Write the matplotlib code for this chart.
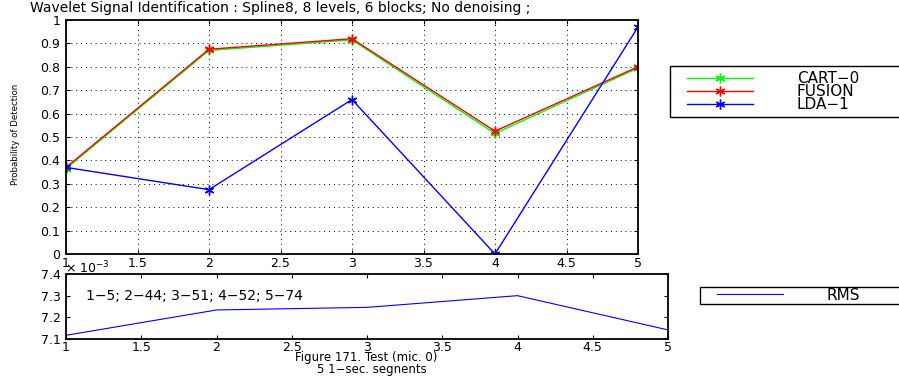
import numpy as np
import matplotlib
matplotlib.use('Agg')
import matplotlib.pyplot as plt
from matplotlib.lines import Line2D
from matplotlib.legend_handler import HandlerLine2D

plt.rcParams['font.family'] = ['DejaVu Sans']

segments = [1, 2, 3, 4, 5]
cart0 = [0.365, 0.870, 0.915, 0.515, 0.795]
fusion = [0.370, 0.875, 0.920, 0.525, 0.800]
lda1 = [0.370, 0.275, 0.660, 0.000, 0.970]
rms = [7.117, 7.234, 7.246, 7.300, 7.142]  # x 10^-3

xticks = [1, 1.5, 2, 2.5, 3, 3.5, 4, 4.5, 5]
xticklabels = ['1', '1.5', '2', '2.5', '3', '3.5', '4', '4.5', '5']
title = 'Wavelet Signal Identification : Spline8, 8 levels, 6 blocks; No denoising ;'
note = '1\u22125; 2\u221244; 3\u221251; 4\u221252; 5\u221274'
xlabel1 = 'Figure 171. Test (mic. 0)'
xlabel2 = '5 1\u2212sec. segnents'

W, H = 899, 381
fig = plt.figure(figsize=(W / 100, H / 100), dpi=100)

def fx(px):
    return px / W

def fy(py):
    return 1 - py / H

ast = (6, 2, 0)

ax = fig.add_axes([fx(66), fy(254), fx(638 - 66), (254 - 20) / H])
ax.plot(segments, cart0, color='#00ff00', marker=ast, lw=1, ms=7, mew=1, label='CART\u22120')
ax.plot(segments, fusion, color='#ff0000', marker=ast, lw=1, ms=7, mew=1, label='FUSION')
ax.plot(segments, lda1, color='#0000ff', marker=ast, lw=1, ms=7, mew=1, label='LDA\u22121')
ax.set_xlim(1, 5)
ax.set_ylim(0, 1)
ax.set_xticks(xticks)
ax.set_xticklabels(xticklabels)
ax.set_yticks(np.arange(0, 1.01, 0.1))
ax.set_yticklabels(['0', '0.1', '0.2', '0.3', '0.4', '0.5', '0.6', '0.7', '0.8', '0.9', '1'])
ax.grid(True, linestyle=(0, (1, 4)), color='black', lw=0.7)
ax.tick_params(direction='in', labelsize=9, length=3, top=True, right=True, pad=4)
ax.tick_params(axis='x', pad=2.5)
ax.set_ylabel('Probability of Detection', fontsize=6.2)
ax.yaxis.set_label_coords((20 - 66) / 572, (254 - 134) / 234)
fig.text(fx(30), fy(12), title, fontsize=10, ha='left', va='baseline')

fs1 = 11
fpx = fs1 * 100 / 72
bp = 0.34
ax.legend(loc='upper left', bbox_to_anchor=(fx(670), fy(116), fx(240), (116 - 66) / H),
          mode='expand', bbox_transform=fig.transFigure, fancybox=False,
          edgecolor='black', framealpha=1, fontsize=fs1, numpoints=1,
          borderpad=bp, labelspacing=-0.14, borderaxespad=0,
          handlelength=(753 - 670) / fpx - bp, handletextpad=(797 - 753) / fpx,
          handler_map={Line2D: HandlerLine2D(xpad=(687 - 670) / fpx - bp)})

ax2 = fig.add_axes([fx(66), fy(339), fx(668 - 66), (339 - 274) / H])
ax2.plot(segments, rms, color='#0000ff', lw=0.8, label='RMS')
ax2.set_xlim(1, 5)
ax2.set_ylim(7.1, 7.4)
ax2.set_xticks(xticks)
ax2.set_xticklabels(xticklabels)
ax2.set_yticks([7.1, 7.2, 7.3, 7.4])
ax2.set_yticklabels(['7.1', '7.2', '7.3', '7.4'])
ax2.tick_params(direction='in', labelsize=9, length=3, top=True, right=True, pad=4)
ax2.tick_params(axis='x', pad=1.5)
ax2.text(1.13, 7.3, note, fontsize=10, va='center')
fig.text(fx(65), fy(268), '\u00d7 10$^{\u22123}$', fontsize=9, ha='left', va='center')
fig.text(fx(366), fy(358), xlabel1, fontsize=8.5, ha='center', va='center')
fig.text(fx(372), fy(369), xlabel2, fontsize=8.5, ha='center', va='center')
ax2.legend(loc='upper left', bbox_to_anchor=(fx(700), fy(305), fx(210), (305 - 287) / H),
           mode='expand', bbox_transform=fig.transFigure, fancybox=False,
           edgecolor='black', framealpha=1, fontsize=fs1, borderaxespad=0,
           borderpad=0.05, handlelength=(783 - 700) / fpx - 0.05,
           handletextpad=(827 - 783) / fpx,
           handler_map={Line2D: HandlerLine2D(xpad=(717 - 700) / fpx - 0.05)})

for a in (ax, ax2):
    for s in a.spines.values():
        s.set_linewidth(1.3)

fig.savefig('out.png', dpi=100)
